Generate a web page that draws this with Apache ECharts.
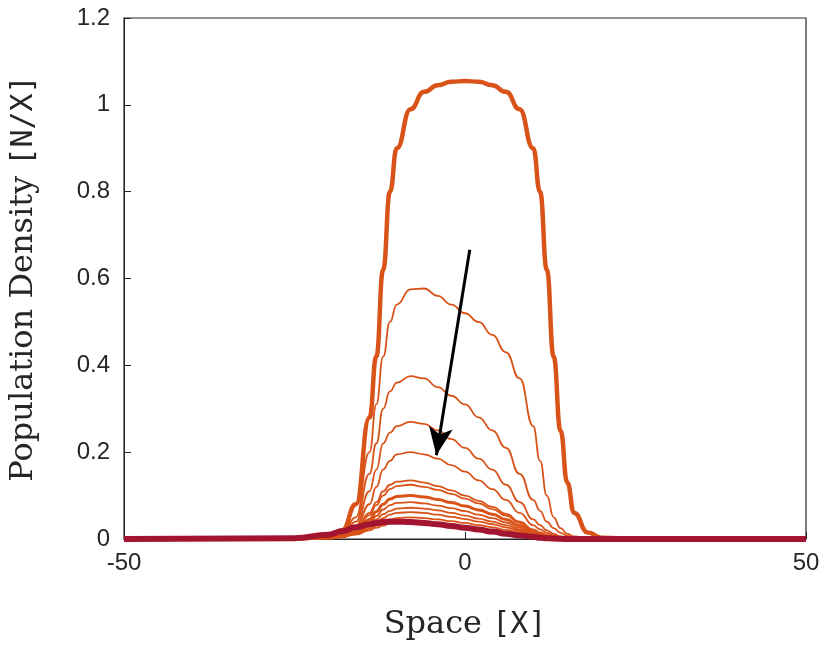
<!DOCTYPE html><html><head><meta charset="utf-8"><script src="https://cdn.jsdelivr.net/npm/echarts@6/dist/echarts.min.js"></script></head><body style="margin:0"><div id="c" style="width:829px;height:653px"></div><script>
const xs=[-50,-25,-20,-18,-16,-14,-13,-12,-11,-10,-8,-6,-4,-2,0,2,4,6,8,10,11,12,13,14,15,16,18,20,25,50];
const initial=[0,0.001,0.005,0.02,0.08,0.28,0.42,0.62,0.8,0.9,0.99,1.03,1.045,1.053,1.055,1.053,1.045,1.03,0.99,0.9,0.8,0.62,0.42,0.25,0.13,0.06,0.015,0.003,0,0];
const mids=[
[0,0.001,0.003,0.01,0.05,0.2,0.31,0.42,0.5,0.54,0.575,0.577,0.56,0.54,0.52,0.5,0.47,0.43,0.37,0.26,0.18,0.1,0.05,0.025,0.012,0.006,0.002,0,0,0],
[0,0.001,0.002,0.008,0.04,0.15,0.22,0.3,0.34,0.36,0.375,0.37,0.35,0.33,0.31,0.28,0.25,0.21,0.15,0.09,0.065,0.04,0.025,0.014,0.007,0.004,0.001,0,0,0],
[0,0.001,0.002,0.006,0.03,0.11,0.16,0.22,0.245,0.26,0.27,0.265,0.25,0.23,0.21,0.185,0.16,0.125,0.085,0.045,0.032,0.02,0.012,0.006,0.003,0.002,0,0,0,0],
[0,0.001,0.002,0.005,0.025,0.08,0.12,0.16,0.18,0.195,0.2,0.195,0.185,0.17,0.155,0.135,0.115,0.09,0.06,0.032,0.022,0.014,0.008,0.004,0.002,0.001,0,0,0,0],
[0,0.001,0.002,0.005,0.02,0.06,0.085,0.11,0.125,0.132,0.135,0.13,0.122,0.112,0.1,0.088,0.074,0.058,0.04,0.022,0.015,0.009,0.005,0.003,0.001,0,0,0,0,0],
[0,0.001,0.002,0.005,0.019,0.055,0.078,0.1,0.115,0.122,0.125,0.12,0.113,0.104,0.093,0.082,0.069,0.054,0.037,0.02,0.014,0.008,0.005,0.002,0.001,0,0,0,0,0],
[0,0.001,0.002,0.005,0.017,0.045,0.063,0.08,0.092,0.098,0.1,0.097,0.091,0.084,0.076,0.067,0.057,0.045,0.031,0.017,0.012,0.007,0.004,0.002,0.001,0,0,0,0,0],
[0,0.001,0.002,0.005,0.015,0.038,0.053,0.068,0.078,0.083,0.085,0.082,0.077,0.071,0.064,0.056,0.048,0.038,0.026,0.014,0.01,0.006,0.003,0.002,0.001,0,0,0,0,0],
[0,0.001,0.002,0.005,0.013,0.032,0.045,0.057,0.065,0.07,0.072,0.07,0.066,0.06,0.054,0.047,0.04,0.032,0.022,0.012,0.008,0.005,0.003,0.001,0,0,0,0,0,0],
[0,0.001,0.002,0.005,0.012,0.028,0.038,0.048,0.056,0.06,0.062,0.06,0.056,0.051,0.046,0.04,0.034,0.027,0.019,0.01,0.007,0.004,0.002,0.001,0,0,0,0,0,0],
[0,0.001,0.002,0.005,0.011,0.024,0.031,0.039,0.045,0.048,0.05,0.048,0.045,0.041,0.037,0.032,0.027,0.021,0.015,0.008,0.006,0.003,0.002,0.001,0,0,0,0,0,0],
[0,0.001,0.002,0.005,0.01,0.02,0.026,0.031,0.036,0.039,0.04,0.039,0.036,0.033,0.029,0.025,0.021,0.016,0.011,0.006,0.004,0.002,0.001,0,0,0,0,0,0,0]];
const final=[0,0.002,0.01,0.018,0.027,0.034,0.037,0.039,0.04,0.04,0.039,0.037,0.034,0.03,0.026,0.022,0.017,0.012,0.008,0.005,0.003,0.002,0.001,0.0005,0,0,0,0,0,0];
const arrowFrom=[0.7,0.666], arrowTo=[-4.2,0.193];
const pts=a=>xs.map((x,i)=>[x,a[i]]);
const series=[];
const sm={smooth:0.5,smoothMonotone:'x',showSymbol:false};
series.push(Object.assign({type:'line',data:pts(initial),lineStyle:{color:'#D95319',width:4.5},z:3},sm));
mids.forEach((m,i)=>series.push(Object.assign({type:'line',data:pts(m),lineStyle:{color:'#D95319',width:i==6?3:1.8},z:2},sm)));
series.push(Object.assign({type:'line',data:pts(final),lineStyle:{color:'#A2142F',width:6},z:4,
 markLine:{silent:true,animation:false,symbolSize:[18,28],lineStyle:{color:'#000',width:3,type:'solid'},label:{show:false},
 data:[[{coord:arrowFrom,symbol:'none'},{coord:arrowTo,symbol:'arrow'}]]}},sm));
const ch=echarts.init(document.getElementById('c'));
const lab={color:'#262626',fontSize:24,fontFamily:'Liberation Sans'};
const rich={s:{fontFamily:'DejaVu Serif',fontSize:32,color:'#262626'},m:{fontFamily:'DejaVu Sans Mono',fontSize:30,color:'#262626'}};
ch.setOption({animation:false,
grid:{left:118,right:23,top:18,bottom:114,show:true,borderColor:'#262626',borderWidth:1.2},
xAxis:{type:'value',min:-50,max:50,interval:50,axisLine:{onZero:false,lineStyle:{color:'#262626'}},axisTick:{inside:true,length:7,lineStyle:{color:'#262626'}},splitLine:{show:false},axisLabel:Object.assign({margin:12},lab),
 name:'{s|Space }{m|[X]}',nameLocation:'middle',nameGap:70,nameTextStyle:{rich}},
yAxis:{type:'value',min:0,max:1.2,interval:0.2,axisLine:{show:true,onZero:false,lineStyle:{color:'#262626'}},axisTick:{show:true,inside:true,length:7,lineStyle:{color:'#262626'}},splitLine:{show:false},axisLabel:Object.assign({margin:14},lab),
 name:'{s|Population Density }{m|[N/X]}',nameLocation:'middle',nameGap:84,nameTextStyle:{rich}},
series});
</script></body></html>
